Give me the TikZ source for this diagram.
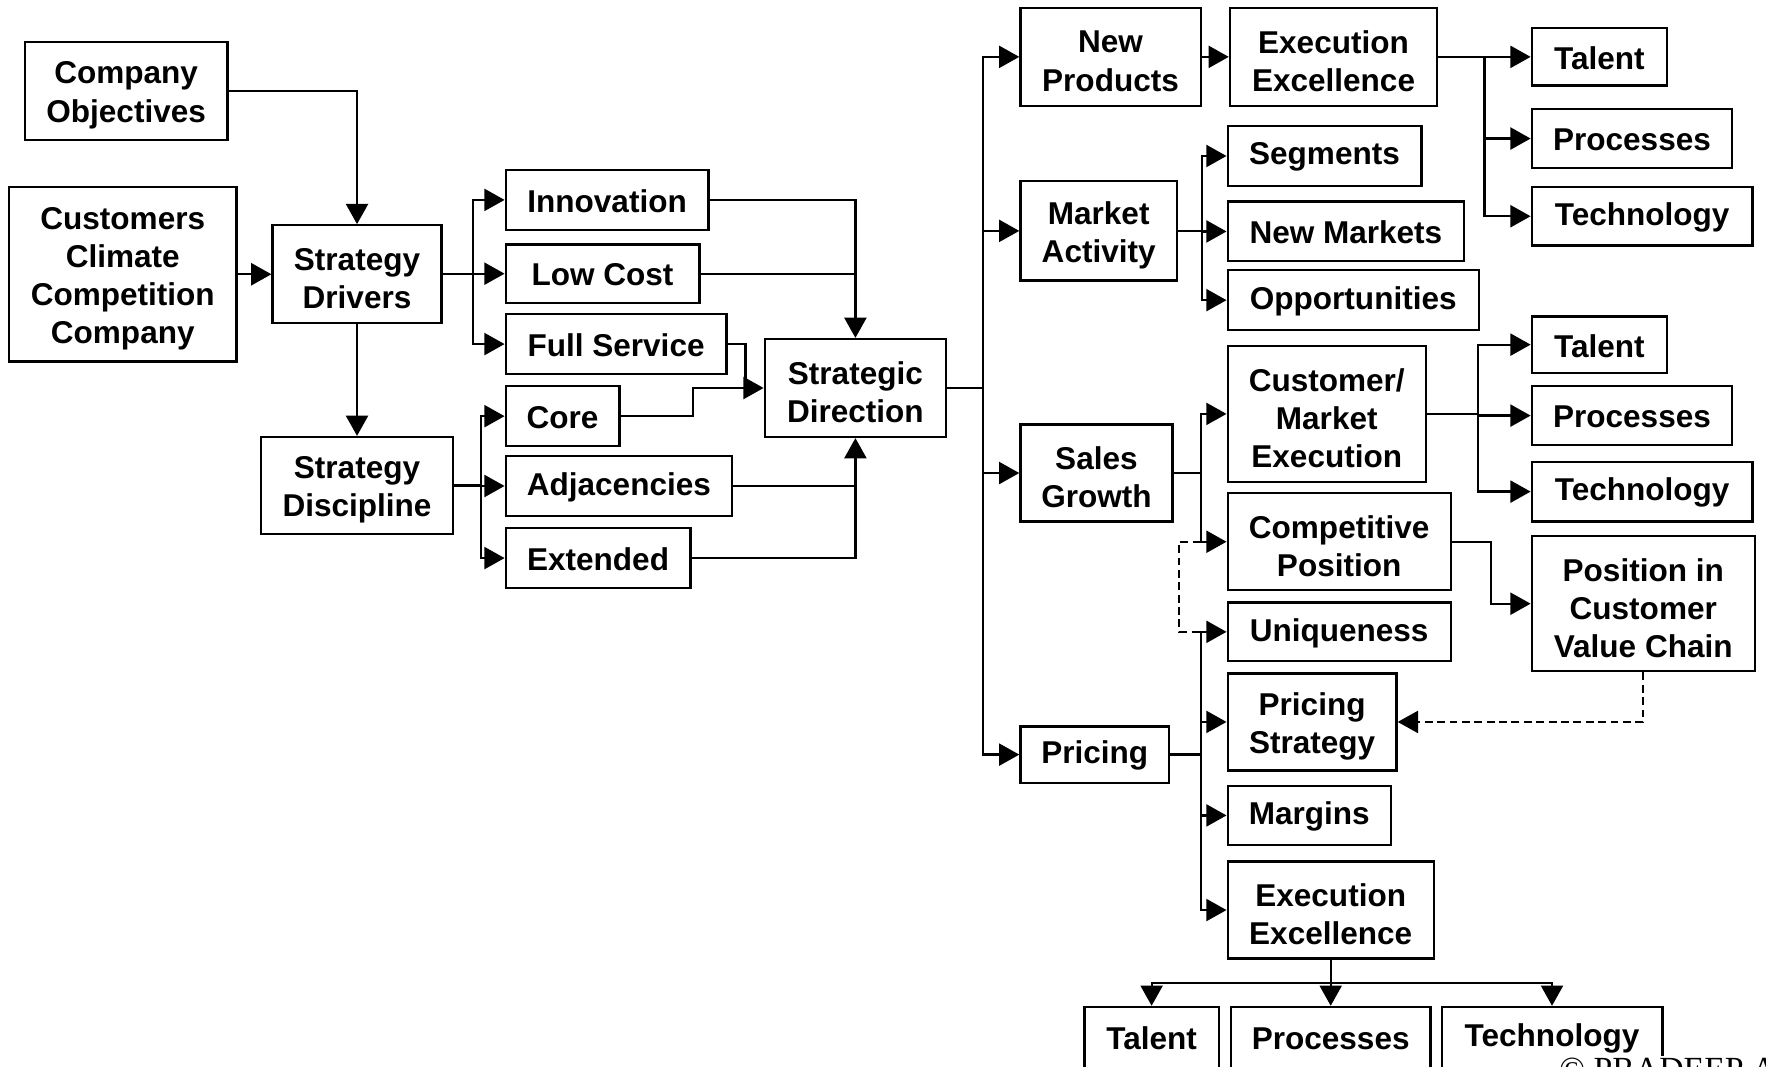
\documentclass[tikz,border=0pt]{standalone}
\usepackage{fontspec}
\setmainfont{Liberation Sans}
\newfontfamily\cpfont{Liberation Serif}
\usetikzlibrary{arrows.meta}
\tikzset{
  box/.style={draw, line width=1pt, fill=white, inner sep=0pt},
  txt/.style={align=center, inner sep=0pt,
    font=\fontsize{14pt}{17pt}\selectfont\bfseries},
  ln/.style={line width=1pt},
  arr/.style={line width=1pt, -{Triangle[length=9pt,width=9.8pt]}},
  dsh/.style={line width=0.85pt, dash pattern=on 3.5pt off 2pt},
}
% \bx[text shift]{name}{x1}{y1}{x2}{y2}{text}
\newcommand\bx[7][4]{%
  \node[box, minimum width={(#5-#3)*0.5pt}, minimum height={(#6-#4)*0.5pt}] (#2) at ({(#3+#5)/2},{(#4+#6)/2}) {};
  \node[txt] (#2-t) at ({(#3+#5)/2},{(#4+#6)/2+#1}) {#7};}
\begin{document}
\begin{tikzpicture}[x=0.5pt,y=-0.5pt]
\useasboundingbox (0,0) rectangle (1568,947);
\fill[white] (0,0) rectangle (1568,947);
\clip (0,0) rectangle (1568,947);
% left part
\bx{CO}{22}{37}{202}{124}{Company\\Objectives}
\bx{CC}{8}{166}{210}{321}{Customers\\Climate\\Competition\\Company}
\bx{SDr}{242}{200}{392}{287}{Strategy\\Drivers}
\bx{SDi}{232}{388}{402}{474}{Strategy\\Discipline}
\bx[1]{Inn}{449}{151}{629}{204}{Innovation}
\bx[1]{LC}{449}{217}{621}{269}{Low Cost}
\bx[1]{FS}{449}{279}{645}{332}{Full Service}
\bx[1]{Core}{449}{343}{550}{396}{Core}
\bx[1]{Adj}{449}{405}{650}{458}{Adjacencies}
\bx[1]{Ext}{449}{469}{613}{522}{Extended}
\bx{SDir}{679}{301}{840}{388}{Strategic\\Direction}
% right part
\bx{NP}{906}{7}{1066}{94}{New\\Products}
\bx{EEa}{1092}{7}{1276}{94}{Execution\\Excellence}
\bx[1]{Ta}{1360}{25}{1480}{76}{Talent}
\bx[1]{Pa}{1360}{97}{1538}{149}{Processes}
\bx[1]{Tea}{1360}{166}{1556}{218}{Technology}
\bx{MA}{906}{161}{1045}{249}{Market\\Activity}
\bx[1]{Seg}{1090}{112}{1262}{165}{Segments}
\bx[1]{NM}{1090}{179}{1300}{232}{New Markets}
\bx[1]{Opp}{1090}{240}{1313}{293}{Opportunities}
\bx{SG}{906}{377}{1041}{463}{Sales\\Growth}
\bx{CME}{1090}{307}{1266}{428}{Customer/\\Market\\Execution}
\bx[1]{Tb}{1360}{281}{1480}{331}{Talent}
\bx[1]{Pb}{1360}{343}{1538}{395}{Processes}
\bx[1]{Teb}{1360}{410}{1556}{463}{Technology}
\bx{CP}{1090}{438}{1288}{524}{Competitive\\Position}
\bx{PCVC}{1360}{476}{1558}{596}{Position in\\Customer\\Value Chain}
\bx[1]{Uni}{1090}{535}{1288}{587}{Uniqueness}
\bx{PS}{1090}{598}{1240}{684}{Pricing\\Strategy}
\bx[1]{Pr}{906}{645}{1038}{695}{Pricing}
\bx[1]{Mar}{1090}{698}{1235}{750}{Margins}
\bx{EEb}{1090}{765}{1273}{851}{Execution\\Excellence}
\bx[0]{Tc}{963}{894}{1082}{950}{Talent}
\bx[0]{Pc}{1093}{894}{1270}{950}{Processes}
\bx[0]{Tec}{1280}{894}{1476}{950}{Technology}
% junction coordinates
\coordinate (jD) at (420,243.5);
\coordinate (jI) at (427,431);
\coordinate (jF) at (662,344.5);
\coordinate (jC) at (615,369.5);
\coordinate (jR) at (873,344.5);
\coordinate (jE) at (1318,50.5);
\coordinate (jM) at (1067,205);
\coordinate (jS) at (1066,420);
\coordinate (jX) at (1312,367.5);
\coordinate (jP) at (1324,481);
\coordinate (jQ) at (1066,670);
\coordinate (dq) at (1047,481);
\coordinate (jB) at (1181.5,873);
% left connectors
\draw[arr] (CO.east) -| (SDr.north);
\draw[arr] (CC.east) -- (SDr.west);
\draw[ln] (SDr.east) -- (jD);
\draw[arr] (jD) |- (Inn.west);
\draw[arr] (jD) |- (LC.west);
\draw[arr] (jD) |- (FS.west);
\draw[arr] (SDr.south) -- (SDi.north);
\draw[ln] (SDi.east) -- (jI);
\draw[arr] (jI) |- (Core.west);
\draw[arr] (jI) |- (Adj.west);
\draw[arr] (jI) |- (Ext.west);
\draw[arr] (Inn.east) -| (SDir.north);
\draw[ln] (LC.east) -- (LC.east -| SDir.north);
\draw[ln] (FS.east) -| (jF);
\draw[arr] (Core.east) -- (jC) |- (SDir.west);
\draw[ln] (Adj.east) -- (Adj.east -| SDir.south);
\draw[arr] (Ext.east) -| (SDir.south);
% right connectors
\draw[ln] (SDir.east) -- (jR);
\draw[arr] (jR) |- (NP.west);
\draw[arr] (jR) |- (MA.west);
\draw[arr] (jR) |- (SG.west);
\draw[arr] (jR) |- (Pr.west);
\draw[arr] (NP.east) -- (EEa.west);
\draw[ln] (EEa.east) -- (jE);
\draw[arr] (jE) |- (Ta.west);
\draw[arr] (jE) |- (Pa.west);
\draw[arr] (jE) |- (Tea.west);
\draw[ln] (MA.east) -- (jM);
\draw[arr] (jM) |- (Seg.west);
\draw[arr] (jM) |- (NM.west);
\draw[arr] (jM) |- (Opp.west);
\draw[ln] (SG.east) -- (jS);
\draw[arr] (jS) |- (CME.west);
\draw[arr] (jS) |- (CP.west);
\draw[ln] (CME.east) -- (jX);
\draw[arr] (jX) |- (Tb.west);
\draw[arr] (jX) |- (Pb.west);
\draw[arr] (jX) |- (Teb.west);
\draw[arr] (CP.east) -- (jP) |- (PCVC.west);
\draw[dsh, -{Triangle[length=9pt,width=9.8pt]}] (PCVC.south) |- (PS.east);
\draw[ln] (Pr.east) -- (jQ);
\draw[arr] (jQ) |- (Uni.west);
\draw[arr] (jQ) |- (PS.west);
\draw[arr] (jQ) |- (Mar.west);
\draw[arr] (jQ) |- (EEb.west);
\draw[dsh] (jS |- CP.west) -- (dq) |- (jQ |- Uni.west);
\draw[ln] (EEb.south) -- (jB);
\draw[arr] (jB) -| (Tc.north);
\draw[arr] (jB) -- (Pc.north);
\draw[arr] (jB) -| (Tec.north);
% copyright
\node[fill=white, inner sep=0.6pt, anchor=base west, font=\cpfont\fontsize{15pt}{18pt}\selectfont] (cp) at (1383,959) {© PRADEEP A};
\end{tikzpicture}
\end{document}
